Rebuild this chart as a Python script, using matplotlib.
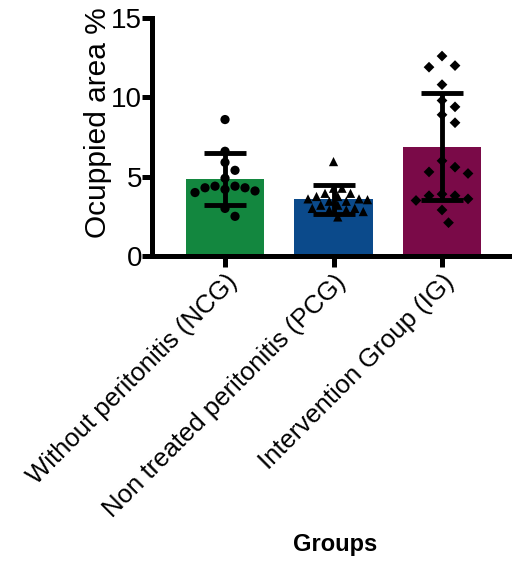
import numpy as np
import matplotlib
matplotlib.use("Agg")
from matplotlib import pyplot as plt

# group labels, bar summaries and individual measurements
groups = ["Without peritonitis (NCG)", "Non treated peritonitis (PCG)", "Intervention Group (IG)"]
means = [4.85, 3.57, 6.9]
sds = [1.62, 0.92, 3.38]
colors = ["#13873f", "#0b4a8b", "#7a0a48"]
markers = ["o", "^", "D"]

ncg = [8.6, 6.6, 5.9, 5.4, 4.9, 4.4, 4.3, 4.2, 4.1, 4.0, 4.3, 4.4, 3.0, 2.5]
pcg = [5.95, 4.27, 4.27, 3.95, 3.95, 3.75, 3.75, 3.6, 3.6, 3.55, 3.45, 3.45,
       3.2, 3.2, 3.0, 3.0, 2.9, 2.9, 2.8, 2.46]
ig = [12.6, 12.0, 11.9, 10.8, 9.8, 9.4, 8.9, 8.4, 6.0, 5.6, 5.3, 5.2,
      3.8, 3.8, 3.6, 3.5, 3.9, 2.9, 2.1]
points = [ncg, pcg, ig]

plt.rcParams['font.family'] = ['Liberation Sans', 'DejaVu Sans']

fig = plt.figure(figsize=(5.12, 5.62), dpi=100)
ax = fig.add_axes([152 / 512, 1 - 256 / 562, 1 - 152 / 512, (256 - 18) / 562])

x = np.arange(len(groups))
ax.set_xlim(-0.673, 2.645)
ax.set_ylim(0, 15)

ax.bar(x, means, width=0.72, color=colors, zorder=1)
ax.errorbar(x, means, yerr=sds, fmt="none", ecolor="black", elinewidth=3.5,
            capsize=15, capthick=3.5, zorder=4)


def swarm(ax, xc, vals, d=9.0):
    # simple beeswarm: spread points sideways in pixel space so they don't overlap
    pix = ax.transData.transform([(xc, v) for v in vals])
    placed = []
    order = np.argsort(-pix[:, 1])
    out = np.zeros_like(pix)
    for i in order:
        px, py = pix[i]
        k = 0
        while True:
            offs = [0.0] if k == 0 else [k * d / 2, -k * d / 2]
            ok = None
            for o in offs:
                if all((px + o - qx) ** 2 + (py - qy) ** 2 >= d * d for qx, qy in placed):
                    ok = o
                    break
            if ok is not None:
                placed.append((px + ok, py))
                out[i] = (px + ok, py)
                break
            k += 1
    return ax.transData.inverted().transform(out)


for xi, vals, m, d in zip(x, points, markers, [10.0, 8.5, 13.0]):
    xy = swarm(ax, xi, vals, d=d)
    ax.scatter(xy[:, 0], xy[:, 1], marker=m, s=44 if m != "D" else 30,
               color="black", edgecolors="none", zorder=3)

for s in ["top", "right"]:
    ax.spines[s].set_visible(False)
for s in ["left", "bottom"]:
    ax.spines[s].set_linewidth(3.6)

ax.set_yticks([0, 5, 10, 15])
ax.tick_params(axis="y", length=7, width=3.6, labelsize=20, pad=0)
ax.tick_params(axis="x", length=8, width=3.6, labelsize=18.5, pad=2)
ax.set_xticks(x)
ax.set_xticklabels(groups, rotation=45, ha="right", rotation_mode="anchor")
ax.set_ylabel("Ocuppied area %", fontsize=21.5)
ax.yaxis.set_label_coords(-0.11, 0.56)
fig.text(335 / 512, 1 - 545 / 562, "Groups", fontsize=17, fontweight="bold",
         ha="center", va="center")

fig.savefig("out.png", dpi=100)
